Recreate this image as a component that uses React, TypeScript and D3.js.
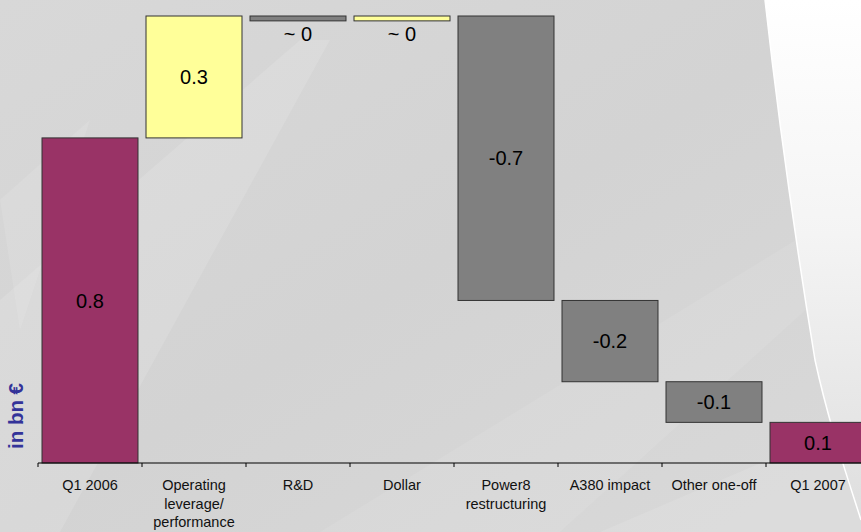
import React from "react";
import * as d3 from "d3";

const categories = ["Q1 2006", "Operating leverage/ performance", "R&D", "Dollar", "Power8 restructuring", "A380 impact", "Other one-off", "Q1 2007"];
const tickLines = [["Q1 2006"], ["Operating", "leverage/", "performance"], ["R&D"], ["Dollar"], ["Power8", "restructuring"], ["A380 impact"], ["Other one-off"], ["Q1 2007"]];
const values = [0.8, 0.3, -0.012, 0.012, -0.7, -0.2, -0.1, 0.1];
const kinds = ["total", "delta", "delta", "delta", "delta", "delta", "delta", "total"];
const valueLabels = ["0.8", "0.3", "~ 0", "~ 0", "-0.7", "-0.2", "-0.1", "0.1"];
const yDomain = [0, 1.1];

const W = 861, H = 532;
const FONT = "'Liberation Sans', Arial, sans-serif";

export default function App() {
  const x = d3.scaleBand<string>().domain(categories).range([38, 38 + 8 * 104]).paddingInner(0.077).paddingOuter(0.0385);
  const y = d3.scaleLinear().domain(yDomain).range([463, 16]);
  const step = x.step();
  const bandStart = (c: string) => (x(c) as number) - x.paddingOuter() * step;

  let run = 0;
  const bars = categories.map((c, i) => {
    const v = values[i];
    let lo: number, hi: number;
    if (kinds[i] === "total") { lo = 0; hi = v; run = v; }
    else { const next = run + v; lo = Math.min(run, next); hi = Math.max(run, next); run = next; }
    const fill = kinds[i] === "total" ? "#993366" : v >= 0 ? "#FFFF99" : "#808080";
    return { c, v, lo, hi, fill, label: valueLabels[i] };
  });

  const bgCurve = "M765,0 C775,90 792,220 815,360 C828,420 845,470 861,520 L861,0 Z";

  return (
    <svg width={W} height={H} style={{ position: "absolute", left: 0, top: 0, display: "block" }}>
      <defs>
        <linearGradient id="bg" x1="0" y1="0" x2="1" y2="1">
          <stop offset="0" stopColor="#d8d8d8" />
          <stop offset="0.5" stopColor="#d3d3d3" />
          <stop offset="1" stopColor="#d9d9d9" />
        </linearGradient>
        <linearGradient id="wh" x1="0" y1="0" x2="0" y2="1">
          <stop offset="0" stopColor="#ffffff" />
          <stop offset="0.45" stopColor="#f4f4f4" />
          <stop offset="1" stopColor="#dedede" />
        </linearGradient>
      </defs>
      <rect x={0} y={0} width={W} height={H} fill="url(#bg)" />
      <path d="M0,300 L0,532 L60,532 L330,40 L300,40 Z" fill="#ffffff" opacity={0.12} />
      <path d="M0,200 L90,120 L20,330 Z" fill="#ffffff" opacity={0.1} />
      <path d="M320,532 L560,532 L861,260 L861,200 Z" fill="#ffffff" opacity={0.08} />
      <path d="M600,532 L861,420 L861,532 Z" fill="#ffffff" opacity={0.1} />
      <path d={bgCurve} fill="url(#wh)" />
      <path d="M765,0 C775,90 792,220 815,360 C828,420 845,470 861,520" fill="none" stroke="#ffffff" strokeWidth={1.5} />

      <text transform="translate(23,416) rotate(-90)" textAnchor="middle" fontFamily={FONT} fontWeight="bold" fontSize={20.5} fill="#333399">in bn €</text>

      {bars.map((b) => (
        <rect key={b.c} x={x(b.c)} y={y(b.hi)} width={x.bandwidth()} height={y(b.lo) - y(b.hi)} fill={b.fill} stroke="#333333" strokeWidth={1} />
      ))}
      {bars.map((b) => {
        const cx = (x(b.c) as number) + x.bandwidth() / 2;
        const small = y(b.lo) - y(b.hi) < 20;
        const cy = small ? y(b.lo) + 13 : (y(b.lo) + y(b.hi)) / 2;
        return (
          <text key={"l" + b.c} x={cx} y={cy} dy="0.36em" textAnchor="middle" fontFamily={FONT} fontSize={20} fill="#000">{b.label}</text>
        );
      })}

      <line x1={38} x2={W} y1={y(0)} y2={y(0)} stroke="#000" strokeWidth={1.2} />
      {categories.map((c) => (
        <line key={"t" + c} x1={bandStart(c)} x2={bandStart(c)} y1={y(0)} y2={y(0) + 4} stroke="#000" strokeWidth={1} />
      ))}
      {categories.map((c, i) => (
        <text key={"x" + c} x={bandStart(c) + step / 2} y={490} textAnchor="middle" fontFamily={FONT} fontSize={14.5} fill="#111">
          {tickLines[i].map((ln, j) => (
            <tspan key={j} x={bandStart(c) + step / 2} dy={j === 0 ? 0 : 18.5}>{ln}</tspan>
          ))}
        </text>
      ))}
    </svg>
  );
}
